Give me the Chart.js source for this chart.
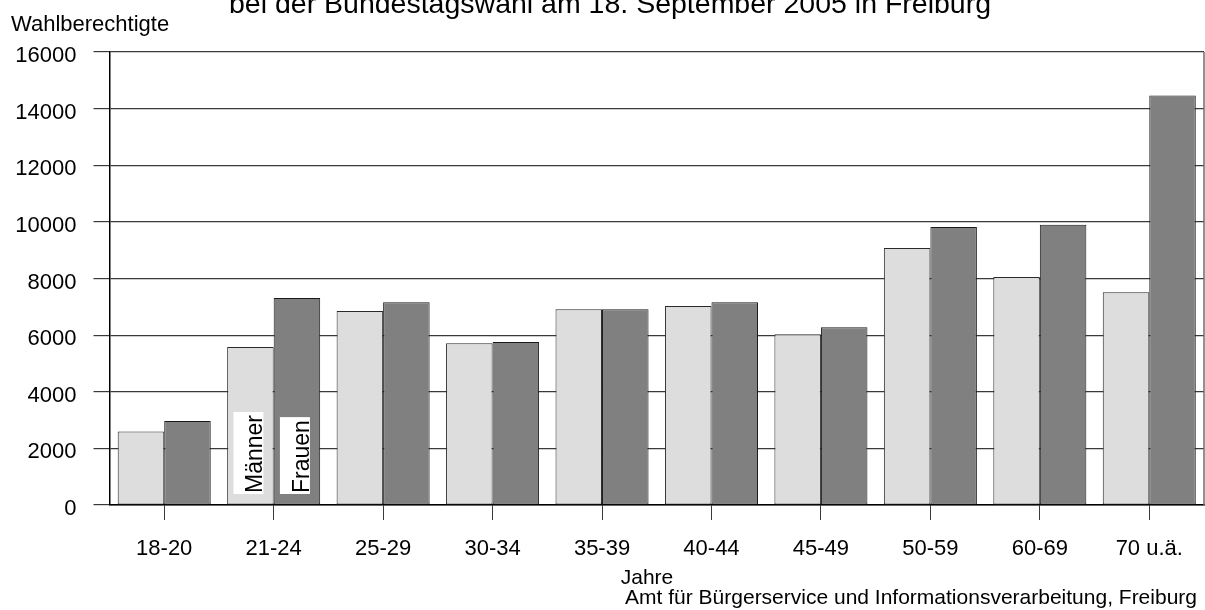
<!DOCTYPE html>
<html>
<head>
<meta charset="utf-8">
<script src="https://cdn.jsdelivr.net/npm/chart.js@4/dist/chart.umd.min.js"></script>
<style>
  html, body { margin: 0; padding: 0; background: #fff; }
  #wrap { width: 1205px; height: 610px; position: relative; }
</style>
</head>
<body>
<div id="wrap"><canvas id="chart"></canvas></div>
<script>
// Wahlberechtigte nach Altersgruppen und Geschlecht
const ageGroups = ['18-20', '21-24', '25-29', '30-34', '35-39', '40-44', '45-49', '50-59', '60-69', '70 u.ä.'];
const maenner   = [2600, 5580, 6850, 5710, 6910, 7030, 6030, 9080, 8050, 7510];
const frauen    = [2970, 7310, 7160, 5760, 6910, 7160, 6280, 9820, 9900, 14460];
const yTicks    = [0, 2000, 4000, 6000, 8000, 10000, 12000, 14000, 16000];
const seriesNames = ['Männer', 'Frauen'];

const titleText  = 'bei der Bundestagswahl am 18. September 2005 in Freiburg';
const yAxisText  = 'Wahlberechtigte';
const xAxisText  = 'Jahre';
const sourceText = 'Amt für Bürgerservice und Informationsverarbeitung, Freiburg';

const FONT = '"Liberation Sans", Arial, Helvetica, sans-serif';
const LINE = '#3a3a3a';

// Frame, titles and the in-bar series labels
const decorations = {
  id: 'decorations',
  afterDatasetsDraw(chart) {
    const ctx = chart.ctx;
    const y0 = chart.scales.y.getPixelForValue(0);
    ctx.save();
    ctx.font = '23px ' + FONT;
    seriesNames.forEach((name, di) => {
      const bar = chart.getDatasetMeta(di).data[1];
      const w = ctx.measureText(name).width;
      const boxW = 30, boxH = w + 4;
      const right = bar.x + 13;
      const bottom = y0 - 11;
      ctx.fillStyle = '#fff';
      ctx.fillRect(right - boxW, bottom - boxH, boxW, boxH);
      ctx.save();
      ctx.translate(right - 1, bottom - 1);
      ctx.rotate(-Math.PI / 2);
      ctx.fillStyle = '#000';
      ctx.textAlign = 'left';
      ctx.textBaseline = 'alphabetic';
      ctx.fillText(name, 0, 0);
      ctx.restore();
    });
    ctx.restore();
  },
  afterDraw(chart) {
    const ctx = chart.ctx;
    const a = chart.chartArea;
    ctx.save();
    // right edge of the frame
    ctx.strokeStyle = '#6e6e6e';
    ctx.lineWidth = 1.5;
    ctx.beginPath();
    ctx.moveTo(a.right, a.top);
    ctx.lineTo(a.right, a.bottom);
    ctx.stroke();

    ctx.fillStyle = '#000';
    ctx.textBaseline = 'alphabetic';
    ctx.textAlign = 'center';
    ctx.font = '28.5px ' + FONT;
    ctx.fillText(titleText, 610, 13);

    ctx.textAlign = 'left';
    ctx.font = '22px ' + FONT;
    ctx.fillText(yAxisText, 11, 31);

    ctx.textAlign = 'center';
    ctx.font = '21px ' + FONT;
    ctx.fillText(xAxisText, 647, 584);

    ctx.textAlign = 'right';
    ctx.font = '21px ' + FONT;
    ctx.fillText(sourceText, 1197, 604);
    ctx.restore();
  }
};

new Chart(document.getElementById('chart'), {
  type: 'bar',
  data: {
    labels: ageGroups,
    datasets: [
      { label: seriesNames[0], data: maenner, backgroundColor: '#dddddd', borderColor: '#2a2a2a', borderWidth: 1, borderSkipped: false },
      { label: seriesNames[1], data: frauen,  backgroundColor: '#808080', borderColor: '#1a1a1a', borderWidth: 1, borderSkipped: false }
    ]
  },
  options: {
    responsive: true,
    maintainAspectRatio: false,
    animation: false,
    layout: { padding: { top: 52, right: 1, left: 0, bottom: 0 } },
    datasets: { bar: { categoryPercentage: 0.85, barPercentage: 1.0 } },
    plugins: {
      legend: { display: false },
      title: { display: false },
      tooltip: { enabled: false }
    },
    scales: {
      x: {
        offset: true,
        grid: { display: true, offset: false, drawOnChartArea: false, drawTicks: true, tickLength: 15, color: LINE, lineWidth: 1 },
        border: { display: true, color: '#000', width: 1.5 },
        ticks: { color: '#000', font: { family: FONT, size: 22 }, padding: 16, maxRotation: 0, autoSkip: false },
        afterFit(scale) { scale.height = 105; }
      },
      y: {
        min: 0,
        max: 16000,
        afterBuildTicks(scale) { scale.ticks = yTicks.map(v => ({ value: v })); },
        grid: { color: LINE, lineWidth: 1.2, tickLength: 16, drawTicks: true },
        border: { display: true, color: '#000', width: 1.5 },
        ticks: { color: '#000', font: { family: FONT, size: 22 }, padding: 17, labelOffset: 4, callback: v => String(v) },
        afterFit(scale) { scale.width = 109.5; }
      }
    }
  },
  plugins: [decorations]
});
</script>
</body>
</html>
